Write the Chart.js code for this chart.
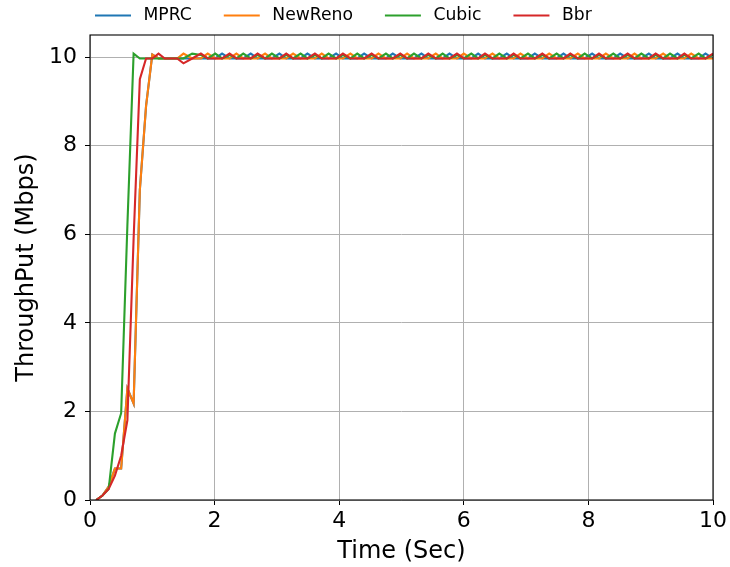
<!DOCTYPE html>
<html>
<head>
<meta charset="utf-8">
<script src="https://cdn.jsdelivr.net/npm/chart.js@4.4.1/dist/chart.umd.min.js"></script>
<style>
  html, body { margin: 0; padding: 0; background: #fff; }
  #wrap { width: 730px; height: 567px; }
</style>
</head>
<body>
<div id="wrap"><canvas id="throughputChart" width="730" height="567"></canvas></div>
<script>
// sample times (sec)
const timeSec = [0.1, 0.2, 0.3, 0.4, 0.5, 0.6, 0.7, 0.8, 0.9, 1.0, 1.1, 1.2, 1.3, 1.4, 1.5, 1.64,
  1.78, 1.89, 2.01, 2.12, 2.24, 2.35, 2.46, 2.58, 2.69, 2.81, 2.92, 3.04, 3.15, 3.26, 3.38, 3.49,
  3.61, 3.72, 3.83, 3.95, 4.06, 4.18, 4.29, 4.4, 4.52, 4.63, 4.75, 4.86, 4.98, 5.09, 5.2, 5.32,
  5.43, 5.55, 5.66, 5.77, 5.89, 6.0, 6.12, 6.23, 6.34, 6.46, 6.57, 6.69, 6.8, 6.91, 7.03, 7.14,
  7.26, 7.37, 7.49, 7.6, 7.71, 7.83, 7.94, 8.06, 8.17, 8.28, 8.4, 8.51, 8.63, 8.74, 8.85, 8.97,
  9.08, 9.2, 9.31, 9.43, 9.54, 9.65, 9.77, 9.88, 10.0];

// throughput (Mbps)
const mprc = [0, 0.1, 0.3, 0.71, 0.71, 2.52, 2.18, 7.0, 8.9, 10.06, 9.97, 9.97, 9.97, 9.97, 9.97, 9.97,
  9.97, 9.97, 9.97, 10.08, 9.97, 9.97, 9.97, 10.08, 9.97, 9.97, 9.97, 10.08, 9.97, 9.97, 9.97, 10.08,
  9.97, 9.97, 9.97, 10.08, 9.97, 9.97, 9.97, 10.08, 9.97, 9.97, 9.97, 10.08, 9.97, 9.97, 9.97, 10.08,
  9.97, 9.97, 9.97, 10.08, 9.97, 9.97, 9.97, 10.08, 9.97, 9.97, 9.97, 10.08, 9.97, 9.97, 9.97, 10.08,
  9.97, 9.97, 9.97, 10.08, 9.97, 9.97, 9.97, 10.08, 9.97, 9.97, 9.97, 10.08, 9.97, 9.97, 9.97, 10.08,
  9.97, 9.97, 9.97, 10.08, 9.97, 9.97, 9.97, 10.08, 9.97];

const newReno = [0, 0.1, 0.3, 0.71, 0.71, 2.52, 2.18, 7.0, 8.9, 10.06, 9.97, 9.97, 9.97, 9.97, 10.08, 9.97,
  9.97, 10.08, 9.97, 9.97, 9.97, 10.08, 9.97, 9.97, 9.97, 10.08, 9.97, 9.97, 9.97, 10.08, 9.97, 9.97,
  9.97, 10.08, 9.97, 9.97, 9.97, 10.08, 9.97, 9.97, 9.97, 10.08, 9.97, 9.97, 9.97, 10.08, 9.97, 9.97,
  9.97, 10.08, 9.97, 9.97, 9.97, 10.08, 9.97, 9.97, 9.97, 10.08, 9.97, 9.97, 9.97, 10.08, 9.97, 9.97,
  9.97, 10.08, 9.97, 9.97, 9.97, 10.08, 9.97, 9.97, 9.97, 10.08, 9.97, 9.97, 9.97, 10.08, 9.97, 9.97,
  9.97, 10.08, 9.97, 9.97, 9.97, 10.08, 9.97, 9.97, 9.97];

const cubic = [0, 0.1, 0.25, 1.5, 1.96, 6.2, 10.08, 9.97, 9.97, 9.97, 9.97, 9.97, 9.97, 9.97, 9.97, 10.08,
  10.05, 9.97, 10.08, 9.97, 10.05, 9.97, 10.08, 9.97, 10.05, 9.97, 10.08, 9.97, 10.05, 9.97, 10.08, 9.97,
  10.05, 9.97, 10.08, 9.97, 10.05, 9.97, 10.08, 9.97, 10.05, 9.97, 10.08, 9.97, 10.05, 9.97, 10.08, 9.97,
  10.05, 9.97, 10.08, 9.97, 10.05, 9.97, 10.08, 9.97, 10.05, 9.97, 10.08, 9.97, 10.05, 9.97, 10.08, 9.97,
  10.05, 9.97, 10.08, 9.97, 10.05, 9.97, 10.08, 9.97, 10.05, 9.97, 10.08, 9.97, 10.05, 9.97, 10.08, 9.97,
  10.05, 9.97, 10.08, 9.97, 10.05, 9.97, 10.08, 9.97, 10.05];

const bbr = [0, 0.1, 0.25, 0.55, 1.0, 1.8, 5.9, 9.5, 9.97, 9.97, 10.08, 9.97, 9.97, 9.97, 9.86, 9.97,
  10.08, 9.97, 9.97, 9.97, 10.08, 9.97, 9.97, 9.97, 10.08, 9.97, 9.97, 9.97, 10.08, 9.97, 9.97, 9.97,
  10.08, 9.97, 9.97, 9.97, 10.08, 9.97, 9.97, 9.97, 10.08, 9.97, 9.97, 9.97, 10.08, 9.97, 9.97, 9.97,
  10.08, 9.97, 9.97, 9.97, 10.08, 9.97, 9.97, 9.97, 10.08, 9.97, 9.97, 9.97, 10.08, 9.97, 9.97, 9.97,
  10.08, 9.97, 9.97, 9.97, 10.08, 9.97, 9.97, 9.97, 10.08, 9.97, 9.97, 9.97, 10.08, 9.97, 9.97, 9.97,
  10.08, 9.97, 9.97, 9.97, 10.08, 9.97, 9.97, 9.97, 10.08];

const seriesNames = ['MPRC', 'NewReno', 'Cubic', 'Bbr'];
const seriesData = [mprc, newReno, cubic, bbr];
const seriesColors = ['#1f77b4', '#ff7f0e', '#2ca02c', '#d62728'];
const xTicks = [0, 2, 4, 6, 8, 10];
const yTicks = [0, 2, 4, 6, 8, 10];

const FONT = 'DejaVu Sans';

// black box round the plot, on top of the lines like matplotlib spines
const framePlugin = {
  id: 'frame',
  afterDatasetsDraw(chart) {
    const {ctx, chartArea: a} = chart;
    ctx.save();
    ctx.strokeStyle = '#000';
    ctx.lineWidth = 1.1;
    ctx.strokeRect(a.left, a.top, a.right - a.left, a.bottom - a.top);
    ctx.restore();
  }
};

// one-row legend above the plot
const legendPlugin = {
  id: 'topLegend',
  afterDraw(chart) {
    const ctx = chart.ctx;
    ctx.save();
    ctx.font = '17.2px "' + FONT + '"';
    ctx.textBaseline = 'middle';
    ctx.textAlign = 'left';
    let x = 95;
    const y = 15.5;
    chart.data.datasets.forEach(ds => {
      ctx.strokeStyle = ds.borderColor;
      ctx.lineWidth = 2.2;
      ctx.beginPath();
      ctx.moveTo(x, y);
      ctx.lineTo(x + 36, y);
      ctx.stroke();
      ctx.fillStyle = '#000';
      ctx.fillText(ds.label, x + 48.5, y);
      x += 48.5 + ctx.measureText(ds.label).width + 32;
    });
    ctx.restore();
  }
};

const gridOpts = {
  color: '#b0b0b0',
  lineWidth: 1,
  tickColor: '#000',
  tickLength: 5,
  tickWidth: 1
};

new Chart(document.getElementById('throughputChart'), {
  type: 'line',
  data: {
    labels: timeSec,
    datasets: seriesNames.map((name, i) => ({
      label: name,
      data: seriesData[i],
      borderColor: seriesColors[i],
      backgroundColor: seriesColors[i],
      borderWidth: 2.1,
      pointRadius: 0,
      tension: 0,
      fill: false,
      order: seriesNames.length - i
    }))
  },
  options: {
    responsive: false,
    animation: false,
    layout: { padding: { top: 35, right: 16, bottom: 0, left: 0 } },
    plugins: {
      legend: { display: false },
      tooltip: { enabled: false }
    },
    scales: {
      x: {
        type: 'linear',
        min: 0,
        max: 10,
        afterBuildTicks: s => { s.ticks = xTicks.map(v => ({ value: v })); },
        afterFit: s => { s.height = 67; },
        ticks: { font: { family: FONT, size: 22 }, color: '#000', padding: 3, maxRotation: 0 },
        grid: gridOpts,
        border: { display: false },
        title: {
          display: true,
          text: 'Time (Sec)',
          color: '#000',
          font: { family: FONT, size: 24 },
          padding: { top: 0, bottom: 1 }
        }
      },
      y: {
        min: 0,
        max: 10.5,
        afterBuildTicks: s => { s.ticks = yTicks.map(v => ({ value: v })); },
        afterFit: s => { s.width = 90; },
        ticks: { font: { family: FONT, size: 22 }, color: '#000', padding: 8 },
        grid: gridOpts,
        border: { display: false },
        title: {
          display: true,
          text: 'ThroughPut (Mbps)',
          color: '#000',
          font: { family: FONT, size: 24 },
          padding: { top: 12, bottom: 0 }
        }
      }
    }
  },
  plugins: [framePlugin, legendPlugin]
});
</script>
</body>
</html>
